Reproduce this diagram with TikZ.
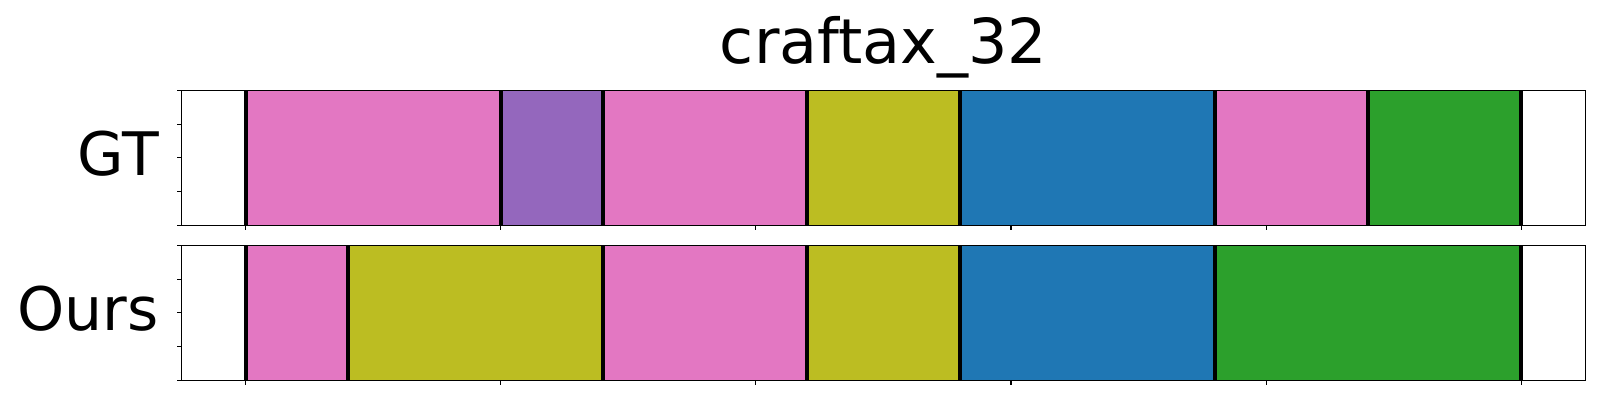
\documentclass[tikz,border=0pt]{standalone}
\usepackage{fontspec}
\setmainfont{DejaVu Sans}
\definecolor{tabpink}{HTML}{E377C2}
\definecolor{tabpurple}{HTML}{9467BD}
\definecolor{tabolive}{HTML}{BCBD22}
\definecolor{tabblue}{HTML}{1F77B4}
\definecolor{tabgreen}{HTML}{2CA02C}
\newcommand{\seg}[4]{\fill[#4] ({245.7+5.102*#1},#3) rectangle ({245.7+5.102*#2},{#3+135});}
\newcommand{\cut}[2]{\draw[line width=4pt] ({245.7+5.102*#1},#2) -- ++(0,135);}
\newcommand{\panel}[1]{\draw[line width=1.1pt] (181.7,#1) rectangle (1585.3,{#1+135});
  \foreach \k in {0,...,4} {\draw[line width=1.1pt] (181.7,{#1+33.75*\k}) -- ++(-5,0);}
  \foreach \t in {0,50,...,250} {\draw[line width=1.1pt] ({245.7+5.102*\t},{#1+135}) -- ++(0,5);}}

\begin{document}
\begin{tikzpicture}[x=1pt,y=-1pt,font=\fontsize{62}{74}\selectfont]
    \useasboundingbox (0,0) rectangle (1600,400);
    \node[anchor=base] (title) at (883.5,63.3) {craftax\_32};
    \node[anchor=base east,inner sep=0,font=\fontsize{60}{72}\selectfont] (GT) at (159,175) {GT};
    \node[anchor=base east,inner sep=0,font=\fontsize{60}{72}\selectfont] (Ours) at (159,330) {Ours};
    % GT
    \seg{0}{50}{90.3}{tabpink}    \seg{50}{70}{90.3}{tabpurple}
    \seg{70}{110}{90.3}{tabpink}  \seg{110}{140}{90.3}{tabolive}
    \seg{140}{190}{90.3}{tabblue} \seg{190}{220}{90.3}{tabpink}
    \seg{220}{250}{90.3}{tabgreen}
    \cut{0}{90.3}\cut{50}{90.3}\cut{70}{90.3}\cut{110}{90.3}
    \cut{140}{90.3}\cut{190}{90.3}\cut{220}{90.3}\cut{250}{90.3}
    \panel{90.3}
    % Ours
    \seg{0}{20}{245.3}{tabpink}    \seg{20}{70}{245.3}{tabolive}
    \seg{70}{110}{245.3}{tabpink}  \seg{110}{140}{245.3}{tabolive}
    \seg{140}{190}{245.3}{tabblue} \seg{190}{250}{245.3}{tabgreen}
    \cut{0}{245.3}\cut{20}{245.3}\cut{70}{245.3}\cut{110}{245.3}
    \cut{140}{245.3}\cut{190}{245.3}\cut{250}{245.3}
    \panel{245.3}
\end{tikzpicture}
\end{document}
